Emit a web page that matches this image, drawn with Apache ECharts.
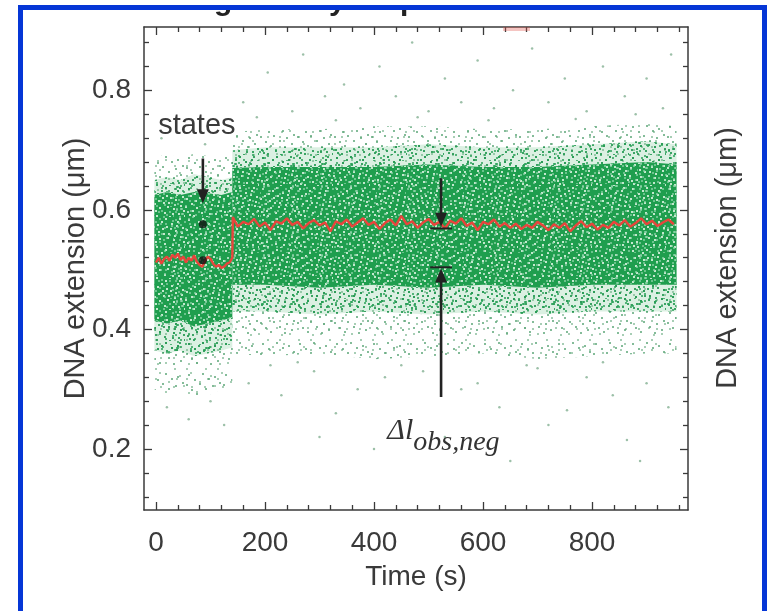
<!DOCTYPE html>
<html><head><meta charset="utf-8">
<script src="https://cdn.jsdelivr.net/npm/echarts@6/dist/echarts.min.js"></script>
<style>html,body{margin:0;padding:0;background:#fff}#c{width:773px;height:611px}</style>
</head><body><div id="c"></div>
<script>
// ---------------- DATA ----------------
const xTickLabels = [0, 200, 400, 600, 800];
const xMinorTicks = [40, 80, 120, 160, 240, 280, 320, 360, 440, 480, 520, 560, 640, 680, 720, 760, 840, 880, 920, 960];
const yTickLabels = [0.2, 0.4, 0.6, 0.8];
const yMinorTicks = [0.12, 0.16, 0.24, 0.28, 0.32, 0.36, 0.44, 0.48, 0.52, 0.56, 0.64, 0.68, 0.72, 0.76, 0.84, 0.88];

// green point cloud, segment A (before the step): density envelopes
const envTimeA   = [-3, 20, 45, 70, 95, 120, 140];
const outerLowA  = [0.30, 0.29, 0.30, 0.285, 0.29, 0.30, 0.31];
const outerHighA = [0.685, 0.695, 0.685, 0.695, 0.69, 0.685, 0.695];
const midLowA    = [0.365, 0.36, 0.365, 0.355, 0.36, 0.365, 0.37];
const midHighA   = [0.65, 0.655, 0.65, 0.66, 0.655, 0.65, 0.655];
const coreLowA   = [0.415, 0.41, 0.415, 0.405, 0.41, 0.415, 0.42];
const coreHighA  = [0.625, 0.63, 0.625, 0.63, 0.628, 0.625, 0.63];

// green point cloud, segment B (after the step)
const envTimeB   = [140, 200, 300, 400, 500, 600, 700, 800, 900, 955];
const outerLowB  = [0.36, 0.355, 0.36, 0.35, 0.355, 0.36, 0.35, 0.355, 0.36, 0.36];
const outerHighB = [0.73, 0.735, 0.735, 0.74, 0.74, 0.735, 0.735, 0.74, 0.745, 0.74];
const midLowB    = [0.43, 0.43, 0.425, 0.43, 0.425, 0.43, 0.425, 0.43, 0.43, 0.43];
const midHighB   = [0.70, 0.705, 0.705, 0.705, 0.71, 0.705, 0.705, 0.71, 0.715, 0.71];
const coreLowB   = [0.475, 0.475, 0.47, 0.475, 0.47, 0.475, 0.47, 0.475, 0.475, 0.475];
const coreHighB  = [0.67, 0.672, 0.672, 0.672, 0.676, 0.672, 0.672, 0.676, 0.68, 0.676];

// sparse outlying green points
const outlierPoints = [
  [10,0.72],[50,0.735],[90,0.71],[20,0.27],[60,0.25],[100,0.28],[125,0.24],
  [160,0.78],[205,0.83],[250,0.765],[270,0.86],[310,0.79],[345,0.81],[375,0.77],[410,0.84],
  [440,0.79],[470,0.88],[500,0.765],[530,0.82],[560,0.78],[590,0.85],[620,0.77],[655,0.80],
  [690,0.87],[720,0.78],[750,0.82],[790,0.765],[820,0.84],[860,0.79],[900,0.82],[930,0.77],[945,0.86],
  [170,0.31],[230,0.29],[290,0.33],[330,0.26],[370,0.30],[420,0.32],[490,0.33],[530,0.22],
  [590,0.31],[630,0.27],[680,0.34],[720,0.24],[754,0.265],[790,0.32],[838,0.29],[864,0.215],
  [900,0.31],[940,0.27],[400,0.20],[650,0.18],[300,0.22],[888,0.18],[560,0.30],[210,0.34],
  [185,0.755],[330,0.75],[480,0.755],[610,0.75],[770,0.752],[880,0.76],[260,0.345],[450,0.34],[700,0.335],[820,0.345]
];

// red smoothed trace
const redTime = [0,5,10,15,20,25,30,35,40,45,50,55,60,65,70,75,80,85,90,95,100,105,110,115,120,125,130,135,140,
  141,150,160,170,180,190,200,210,220,230,240,250,260,270,280,290,300,310,320,330,340,350,360,370,380,390,
  400,410,420,430,440,450,460,470,480,490,500,510,520,530,540,550,560,570,580,590,600,610,620,630,640,650,
  660,670,680,690,700,710,720,730,740,750,760,770,780,790,800,810,820,830,840,850,860,870,880,890,900,910,
  920,930,940,950];
const redValue = [0.512,0.520,0.510,0.518,0.522,0.515,0.525,0.520,0.527,0.516,0.522,0.512,0.520,0.515,0.524,0.513,0.508,0.505,0.515,0.522,0.518,0.510,0.505,0.508,0.503,0.505,0.510,0.512,0.520,
  0.588,0.572,0.580,0.576,0.585,0.572,0.579,0.566,0.581,0.577,0.586,0.575,0.580,0.569,0.578,0.583,0.574,0.579,0.564,0.581,0.576,0.584,0.572,0.579,0.586,0.575,
  0.580,0.568,0.578,0.584,0.574,0.590,0.576,0.581,0.570,0.579,0.585,0.575,0.580,0.569,0.582,0.577,0.586,0.573,0.579,0.566,0.580,0.576,0.584,0.572,0.578,0.570,
  0.577,0.568,0.575,0.570,0.580,0.574,0.566,0.576,0.570,0.578,0.564,0.574,0.581,0.571,0.577,0.567,0.575,0.570,0.580,0.574,0.583,0.572,0.578,0.586,0.576,0.582,
  0.573,0.579,0.584,0.576];
const redTrace = redTime.map((t, i) => [t, redValue[i]]);

// the two extension states (black dots)
const stateTime = [86, 86];
const stateValue = [0.576, 0.516];

// ---------------- CHART ----------------
const X_MIN = -22, X_MAX = 976, Y_MIN = 0.098, Y_MAX = 0.906;
const AX = '#3a3a3a';
const FONT = '"Liberation Sans", Arial, Helvetica, sans-serif';
const SERIF = '"Liberation Serif", "Times New Roman", serif';

// speckle texture (style only): hand-placed specks in a 37x31 tile
const SPECKS = [[3,2],[17,1],[29,4],[9,7],[23,6],[34,10],[1,12],[14,11],[27,13],[6,17],[20,16],[32,19],
  [11,21],[25,22],[2,25],[16,26],[30,27],[8,29],[21,30],[35,24],[13,4],[5,9],[28,8],[19,20],[33,15],
  [10,14],[24,27],[0,20],[18,9],[31,1],[7,24],[26,18],[15,16],[36,29],[22,11],[4,28]];
function tile(w, h, bg, dotColor, dots, sz) {
  const c = document.createElement('canvas');
  c.width = w; c.height = h;
  const g = c.getContext('2d');
  if (bg) { g.fillStyle = bg; g.fillRect(0, 0, w, h); }
  g.fillStyle = dotColor;
  dots.forEach(d => g.fillRect(d[0] % w, d[1] % h, sz, sz));
  return { image: c, repeat: 'repeat' };
}
const coreFills = [
  tile(37, 31, '#1f9e4e', 'rgba(235,250,238,0.8)', SPECKS, 2),
  tile(29, 23, null, 'rgba(150,215,175,0.65)', SPECKS.slice(6, 34), 2)
];
const midFills = [
  tile(37, 31, 'rgba(90,185,125,0.22)', 'rgba(30,150,78,0.85)', SPECKS, 2),
  tile(29, 23, null, 'rgba(40,160,85,0.75)', SPECKS.slice(0, 20), 2)
];
const outerFills = [
  tile(37, 31, null, 'rgba(80,160,110,0.7)', SPECKS.slice(0, 14), 2),
  tile(31, 29, null, 'rgba(95,165,120,0.55)', SPECKS.slice(18, 30), 2)
];

function band(times, lo, hi, fill, z) {
  return {
    type: 'custom', silent: true, clip: true, z: z,
    data: times.map((t, i) => [t, lo[i], hi[i]]),
    encode: { x: 0, y: [1, 2] },
    renderItem: function (params, api) {
      if (params.dataIndex !== 0) return null;
      const pts = [];
      for (let i = 0; i < times.length; i++) pts.push(api.coord([times[i], hi[i]]));
      for (let i = times.length - 1; i >= 0; i--) pts.push(api.coord([times[i], lo[i]]));
      return { type: 'polygon', shape: { points: pts }, style: { fill: fill } };
    }
  };
}
function bands(times, lo, hi, fills, z) {
  return fills.map((f, k) => band(times, lo, hi, f, z + k * 0.01));
}

function xAx(pos, ticks, len, withLine, withLabels) {
  return {
    type: 'value', min: X_MIN, max: X_MAX, position: pos, splitLine: { show: false },
    axisLine: { show: withLine, onZero: false, lineStyle: { color: AX, width: 1.5 } },
    axisTick: { show: true, inside: true, length: len, customValues: ticks, lineStyle: { color: AX, width: 1.3 } },
    axisLabel: withLabels ? { show: true, customValues: xTickLabels, fontSize: 28, color: AX, margin: 19, fontFamily: FONT } : { show: false },
    name: withLabels ? 'Time (s)' : '', nameLocation: 'middle', nameGap: 53, nameMoveOverlap: false,
    nameTextStyle: { fontSize: 28, color: AX, fontFamily: FONT }
  };
}
function yAx(pos, ticks, len, withLine, withLabels) {
  return {
    type: 'value', min: Y_MIN, max: Y_MAX, position: pos, splitLine: { show: false },
    axisLine: { show: withLine, onZero: false, lineStyle: { color: AX, width: 1.5 } },
    axisTick: { show: true, inside: true, length: len, customValues: ticks, lineStyle: { color: AX, width: 1.3 } },
    axisLabel: withLabels ? { show: true, customValues: yTickLabels, fontSize: 28, color: AX, margin: 13, fontFamily: FONT, formatter: v => v.toFixed(1) } : { show: false }
  };
}

const chart = echarts.init(document.getElementById('c'), null, { renderer: 'canvas' });
chart.setOption({
  backgroundColor: '#ffffff',
  animation: false,
  grid: { left: 144, top: 27, right: 85, bottom: 101, containLabel: false },
  xAxis: [
    xAx('bottom', xTickLabels, 8, true, true),
    xAx('bottom', xMinorTicks, 5, false, false),
    xAx('top', xTickLabels, 8, true, false),
    xAx('top', xMinorTicks, 5, false, false)
  ],
  yAxis: [
    yAx('left', yTickLabels, 8, true, true),
    yAx('left', yMinorTicks, 5, false, false),
    yAx('right', yTickLabels, 8, true, false),
    yAx('right', yMinorTicks, 5, false, false)
  ],
  series: [].concat(
    bands(envTimeA, outerLowA, outerHighA, outerFills, 1),
    bands(envTimeB, outerLowB, outerHighB, outerFills, 1),
    bands(envTimeA, midLowA, midHighA, midFills, 2),
    bands(envTimeB, midLowB, midHighB, midFills, 2),
    bands(envTimeA, coreLowA, coreHighA, coreFills, 3),
    bands(envTimeB, coreLowB, coreHighB, coreFills, 3),
    [
      { type: 'scatter', data: outlierPoints, symbolSize: 2.5, silent: true, z: 4,
        itemStyle: { color: 'rgba(90,150,110,0.75)' } },
      { type: 'line', data: redTrace, showSymbol: false, silent: true, z: 5,
        lineStyle: { color: '#e8453c', width: 2.4 } },
      { type: 'scatter', data: stateTime.map((t, i) => [t, stateValue[i]]), symbolSize: 8, silent: true, z: 6,
        itemStyle: { color: '#111' } }
    ]
  )
});

// ---------------- ANNOTATIONS (placed in data units) ----------------
const P = (t, v) => chart.convertToPixel({ xAxisIndex: 0, yAxisIndex: 0 }, [t, v]);
function arrow(from, to, color) {
  const a = P(from[0], from[1]), b = P(to[0], to[1]);
  const dir = Math.sign(b[1] - a[1]);
  const headLen = 14, headW = 6;
  return [
    { type: 'line', shape: { x1: a[0], y1: a[1], x2: b[0], y2: b[1] - dir * headLen + dir * 2 }, style: { stroke: color, lineWidth: 2.6 }, z: 100 },
    { type: 'polygon', shape: { points: [[b[0], b[1]], [b[0] - headW, b[1] - dir * headLen], [b[0] + headW, b[1] - dir * headLen]] }, style: { fill: color }, z: 100 }
  ];
}
function hbar(t0, t1, v) {
  const a = P(t0, v), b = P(t1, v);
  return { type: 'line', shape: { x1: a[0], y1: a[1], x2: b[0], y2: b[1] }, style: { stroke: '#222', lineWidth: 2 }, z: 100 };
}
const stPos = P(75, 0.741);
const dlPos = P(472, 0.23);   // junction between "Δl" and its subscript
const yMid = P(0, (Y_MIN + Y_MAX) / 2)[1];
const deco = [
  { type: 'text', x: 76, y: yMid, rotation: Math.PI / 2, style: { text: 'DNA extension (\u03bcm)', fontSize: 29, fontFamily: FONT, fill: AX, align: 'center', verticalAlign: 'middle' }, z: 100 },
  // descenders of the neighbouring panel's title, cut off by the frame
  { type: 'text', x: 214, y: 17, style: { text: 'g', fontSize: 30, fontWeight: 'bold', fontFamily: FONT, fill: '#222', verticalAlign: 'bottom' }, z: 140 },
  { type: 'text', x: 329, y: 17, style: { text: 'y', fontSize: 30, fontWeight: 'bold', fontFamily: FONT, fill: '#222', verticalAlign: 'bottom' }, z: 140 },
  { type: 'text', x: 400, y: 17, style: { text: 'p', fontSize: 30, fontWeight: 'bold', fontFamily: FONT, fill: '#222', verticalAlign: 'bottom' }, z: 140 },
  { type: 'rect', shape: { x: 0, y: 0, width: 773, height: 6 }, style: { fill: '#fff' }, z: 150 },
  { type: 'line', shape: { x1: 503, y1: 29, x2: 530, y2: 29 }, style: { stroke: 'rgba(225,90,80,0.35)', lineWidth: 4 }, z: 90 },
  { type: 'rect', shape: { x: 20.5, y: 7.5, width: 744, height: 1000 }, style: { fill: 'none', stroke: '#0536d6', lineWidth: 5 }, z: 200 },
  { type: 'text', x: 728, y: 258, rotation: Math.PI / 2, style: { text: 'DNA extension (\u03bcm)', fontSize: 29, fontFamily: FONT, fill: AX, align: 'center', verticalAlign: 'middle' }, z: 100 }
];
chart.setOption({
  graphic: [].concat(
    arrow([86, 0.686], [86, 0.611], '#222'),
    arrow([523, 0.653], [523, 0.572], '#222'),
    arrow([523, 0.287], [523, 0.502], '#222'),
    [hbar(503, 543, 0.569), hbar(503, 543, 0.504)],
    [{ type: 'text', x: stPos[0], y: stPos[1], style: { text: 'states', fontSize: 29, fontFamily: FONT, fill: AX, align: 'center', verticalAlign: 'middle' }, z: 100 },
     { type: 'text', x: dlPos[0], y: dlPos[1], style: { text: '\u0394l', fontSize: 30, fontStyle: 'italic', fontFamily: SERIF, fill: '#333', align: 'right', verticalAlign: 'middle' }, z: 100 },
     { type: 'text', x: dlPos[0], y: dlPos[1] + 12, style: { text: 'obs,neg', fontSize: 28, fontStyle: 'italic', fontFamily: SERIF, fill: '#333', align: 'left', verticalAlign: 'middle' }, z: 100 }],
    deco
  )
});
</script></body></html>
